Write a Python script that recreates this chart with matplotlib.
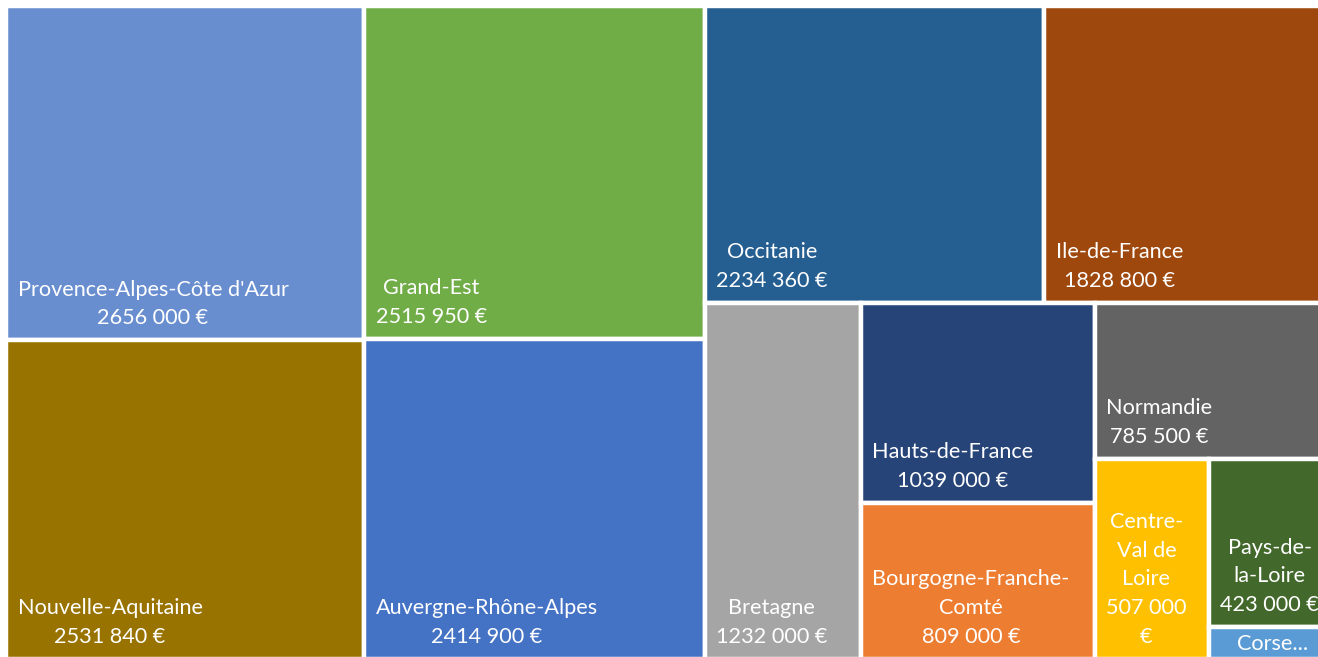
import matplotlib
matplotlib.use("Agg")
import matplotlib.pyplot as plt
from matplotlib.patches import Rectangle

# data, in Excel's order (largest first)
regions = ["Provence-Alpes-Côte d'Azur", "Nouvelle-Aquitaine", "Grand-Est",
           "Auvergne-Rhône-Alpes", "Occitanie", "Ile-de-France", "Bretagne",
           "Hauts-de-France", "Bourgogne-Franche-Comté", "Normandie",
           "Centre-Val de Loire", "Pays-de-la-Loire", "Corse"]
values = [2656000, 2531840, 2515950, 2414900, 2234360, 1828800, 1232000,
          1039000, 809000, 785500, 507000, 423000, 80000]
colors = ["#698ED0", "#997300", "#70AD47", "#4472C4", "#255E91", "#9E480E",
          "#A5A5A5", "#264478", "#ED7D31", "#636363", "#FFC000", "#43682B",
          "#5B9BD5"]

# how many items go in each strip (Excel's grouping)
strips = [2, 2, 2, 1, 2, 1, 1, 1, 1]

# wrapped labels for the narrow cells
wrapped = {
    "Bourgogne-Franche-Comté": "Bourgogne-Franche-\nComté",
    "Centre-Val de Loire": "Centre-\nVal de\nLoire",
    "Pays-de-la-Loire": "Pays-de-\nla-Loire",
}


def fmt(v):
    s = f"{v // 1000} {v % 1000:03d} €"
    return s


def layout(vals, groups, x, y, w, h):
    rects = []
    i = 0
    for n in groups:
        part = vals[i:i + n]
        rest = sum(vals[i:])
        frac = sum(part) / rest
        if h <= w:
            # vertical strip on the left
            sw = w * frac
            yy = y
            for v in part:
                hh = h * v / sum(part)
                rects.append((x, yy, sw, hh))
                yy += hh
            x += sw
            w -= sw
        else:
            # horizontal strip on top
            sh = h * frac
            xx = x
            for v in part:
                ww = w * v / sum(part)
                rects.append((xx, y, ww, sh))
                xx += ww
            y += sh
            h -= sh
        i += n
    return rects


W, H = 1318, 657
fig = plt.figure(figsize=(W / 100, H / 100), dpi=100)
ax = fig.add_axes([0, 0, 1, 1])
ax.set_xlim(0, W)
ax.set_ylim(H, 0)
ax.axis("off")

rects = layout(values, strips, 6, 6, 1316, 653)

font = "Lato"
for name, v, c, (x, y, w, h) in zip(regions, values, colors, rects):
    ax.add_patch(Rectangle((x, y), w, h, facecolor=c, edgecolor="white",
                           linewidth=3.2))
    if name == "Corse":
        t = ax.text(x + 28, y + h - 5, "Corse...", color="white", fontsize=15.6,
                    family=font, ha="left", va="bottom")
    else:
        label = wrapped.get(name, name)
        val = fmt(v)
        if name == "Centre-Val de Loire":
            val = val.replace(" €", "\n€")
        t = ax.text(x + 11.5, y + h - 12, label + "\n" + val, color="white",
                    fontsize=15.6, family=font, ha="left", va="bottom",
                    multialignment="center", linespacing=1.55)
    t.set_clip_path(Rectangle((x, y), w, h, transform=ax.transData))

fig.savefig("out.png", dpi=100)
